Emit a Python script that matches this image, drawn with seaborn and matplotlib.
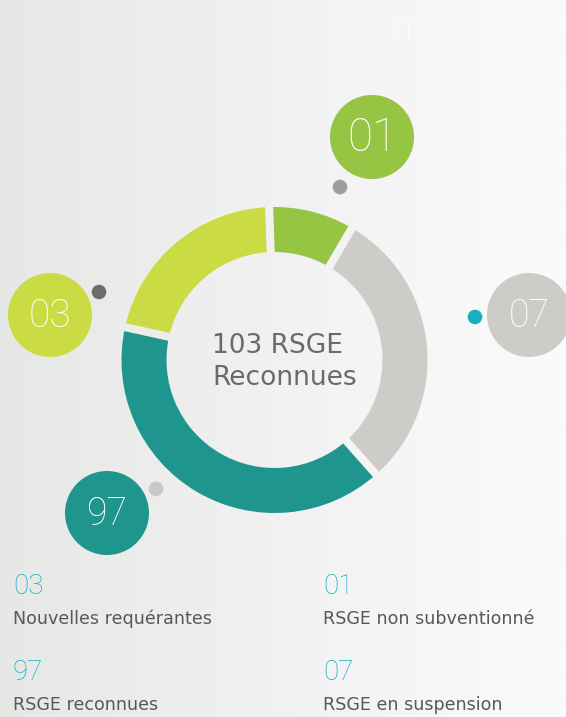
import numpy as np
import matplotlib
matplotlib.use("Agg")
import matplotlib.pyplot as plt
import seaborn as sns
import pandas as pd
from matplotlib.patches import Circle

# data (clockwise from top)
categories = ["RSGE non subventionné", "RSGE en suspension", "RSGE reconnues", "Nouvelles requérantes"]
counts = [1, 7, 97, 3]
arc_shares = [9, 30, 40, 21]   # share of the ring as drawn
total_label = "103 RSGE\nReconnues"
page_number = "11"

colors = ["#96c443", "#cdccc8", "#1e958d", "#cbdb43"]
dot_colors = ["#9d9d99", "#1aaec0", "#c8c8c4", "#6c6c68"]

sns.set_theme(style="white")
plt.rcParams['font.family'] = ['DejaVu Sans']
num_font = ['Roboto', 'DejaVu Sans']

W, H = 566, 717
fig = plt.figure(figsize=(W / 100, H / 100), dpi=100)
ax = fig.add_axes([0, 0, 1, 1])

def Y(y):
    return H - y

# background gradient
c0 = np.array([0xe6, 0xe8, 0xe6]) / 255
c1 = np.array([0xfb, 0xfb, 0xfb]) / 255
def bg_at(x):
    t = x / W
    return tuple(c0 * (1 - t) + c1 * t)

grad = np.linspace(0, 1, 256)
img = c0[None, None, :] * (1 - grad[None, :, None]) + c1[None, None, :] * grad[None, :, None]
ax.imshow(img, extent=[0, W, 0, H], aspect='auto', zorder=0)

# donut
cx, cy = 274.5, Y(360)
r_out, r_in = 153, 108
start = 92
ax.pie(arc_shares, colors=colors, startangle=start, counterclock=False,
       center=(cx, cy), radius=r_out,
       wedgeprops=dict(width=r_out - r_in, linewidth=0))
# gaps between the segments
cum = np.concatenate([[0], np.cumsum(arc_shares)[:-1]]) / sum(arc_shares)
for c in cum:
    th = np.deg2rad(start - 360 * c)
    xs = cx + np.array([r_in - 3, r_out + 3]) * np.cos(th)
    ys = cy + np.array([r_in - 3, r_out + 3]) * np.sin(th)
    ax.plot(xs, ys, color=bg_at(xs.mean()), lw=5.8, solid_capstyle='butt', zorder=2)

ax.text(212, Y(362), total_label, ha='left', va='center', fontsize=19,
        color="#6d6a65", linespacing=1.3, multialignment='left')

# bubbles and accent dots
bubble_pos = [(372, 137), (529, 315), (107, 513), (50, 315)]
bubble_fs = [33, 27, 27, 28]
dot_pos = [(340, 187), (475, 317), (156, 489), (99, 292)]
for (bx, by), col, n, fs in zip(bubble_pos, colors, counts, bubble_fs):
    ax.add_patch(Circle((bx, Y(by)), 42, color=col, zorder=3, lw=0))
    ax.text(bx, Y(by) - 1, f"{n:02d}", ha='center', va='center', fontsize=fs,
            color='white', family=num_font, fontweight='light', zorder=4)

dots = pd.DataFrame({"x": [p[0] for p in dot_pos], "y": [Y(p[1]) for p in dot_pos],
                     "cat": categories})
sns.scatterplot(data=dots, x="x", y="y", hue="cat", palette=dict(zip(categories, dot_colors)),
                s=110, linewidth=0, legend=False, ax=ax, zorder=5)

# page number
ax.text(400, Y(41), page_number, ha='center', va='baseline', fontsize=21,
        color='white', family=num_font, fontweight='light')

# bottom legend
legend_pos = {"Nouvelles requérantes": (13, 594), "RSGE reconnues": (13, 680),
              "RSGE non subventionné": (323, 594), "RSGE en suspension": (323, 680)}
for cat, n in zip(categories, counts):
    lx, ly = legend_pos[cat]
    ax.text(lx, Y(ly), f"{n:02d}", ha='left', va='baseline', fontsize=20,
            color="#19aebf", family=num_font, fontweight='light')
    ax.text(lx, Y(ly + 30), cat, ha='left', va='baseline', fontsize=12.6,
            color="#58585a")

ax.set_xlim(0, W)
ax.set_ylim(0, H)
ax.set_aspect('auto')
ax.axis('off')
fig.savefig("out.png", dpi=100)
